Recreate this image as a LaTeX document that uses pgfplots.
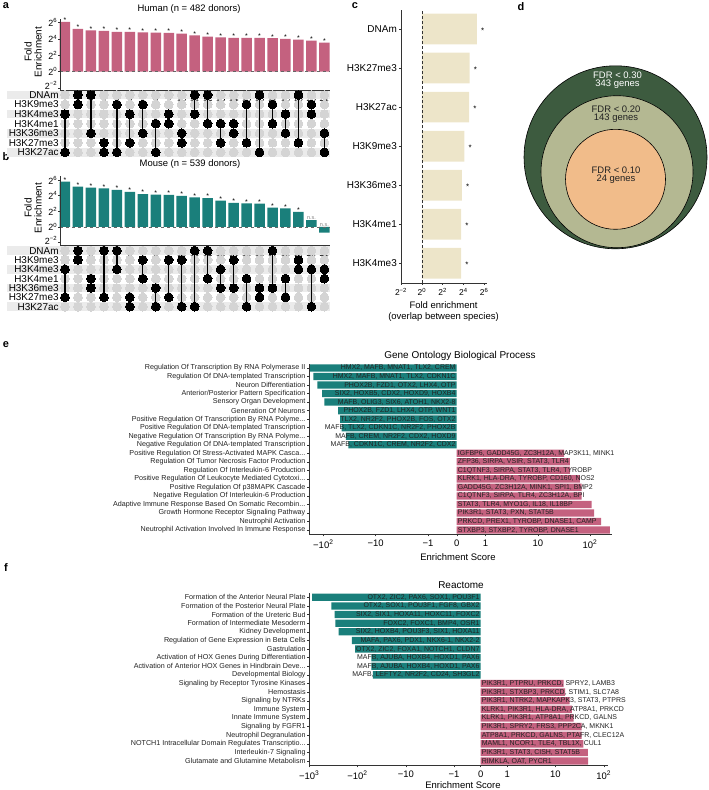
\documentclass[border=0pt]{standalone}
\usepackage{fontspec}
\setmainfont{Liberation Sans}
\setsansfont{Liberation Sans}
\usepackage{pgfplots}
\pgfplotsset{compat=1.18}

\definecolor{pinkA}{HTML}{C4617F}
\definecolor{tealA}{HTML}{1A7F7B}
\definecolor{beige}{HTML}{EDE5C9}
\definecolor{dkgreen}{HTML}{3D5B3F}
\definecolor{sage}{HTML}{B4B892}
\definecolor{peach}{HTML}{F1BC8A}
\definecolor{band}{HTML}{EBEBEB}
\definecolor{dotgray}{HTML}{D4D4D4}
\definecolor{axgray}{HTML}{333333}
\definecolor{txt}{HTML}{222222}

\newcommand\fs[1]{\fontsize{#1}{#1}\selectfont}
\newcommand\el{.\kern0pt.\kern0pt.}

\pgfplotsset{
 base/.style={scale only axis, anchor=north west, clip=false, axis on top,
   tick align=outside, major tick length=2bp, tick style={axgray, line width=0.4pt},
   axis line style={axgray, line width=0.5pt}},
 pair/.style={black, line width=1.3bp, mark=*, mark size=4.4bp, mark options={solid, fill=black, draw=black, line width=0pt}},
 gridpts/.style={color=dotgray, only marks, mark=*, mark size=4.4bp, mark options={fill=dotgray, draw=dotgray, line width=0pt}},
 lab/.style={only marks, mark=*, mark size=0pt, mark options={draw=none, fill=none}, nodes near coords, point meta=explicit symbolic, nodes near coords style={font=\fs{7}, anchor=south, inner sep=0pt, yshift=-1bp}},
 strafo/.style={x coord trafo/.code={\pgfmathparse{sign(##1)*(0.55*min(abs(##1),1)+ln(max(abs(##1),1))/ln(10))}}},
 bandrow/.style={fill=band, draw=none},
}

\begin{document}
\begin{tikzpicture}

% ---------------- panel labels and titles ----------------
\node[font=\bfseries\fs{11}] at (6bp,-6bp) {a};
\node[font=\bfseries\fs{11}] at (6bp,-157bp) {b};
\node[font=\bfseries\fs{11}] at (355bp,-6bp) {c};
\node[font=\bfseries\fs{11}] at (521bp,-7bp) {d};
\node[font=\bfseries\fs{11}] at (6bp,-345bp) {e};
\node[font=\bfseries\fs{11}] at (6bp,-568bp) {f};
\node[font=\fs{9.5}] at (189bp,-9bp) {Human (n = 482 donors)};
\node[font=\fs{9.5}] at (190bp,-164bp) {Mouse (n = 539 donors)};
\node[font=\fs{10}, rotate=90, align=center] at (33bp,-52bp) {Fold\\Enrichment};
\node[font=\fs{10}, rotate=90, align=center] at (33bp,-208bp) {Fold\\Enrichment};
\node[font=\fs{9.5}] at (443.5bp,-305bp) {Fold enrichment};
\node[font=\fs{9.5}] at (443.5bp,-317bp) {(overlap between species)};
\node[font=\fs{10}] at (460bp,-356bp) {Gene Ontology Biological Process};
\node[font=\fs{9.5}] at (458bp,-557bp) {Enrichment Score};
\node[font=\fs{10}] at (461bp,-585bp) {Reactome};
\node[font=\fs{9.5}] at (463bp,-785bp) {Enrichment Score};

% ---------------- panel a : bars ----------------
\begin{axis}[base, at={(59.8bp,-18.6bp)}, width=269.8bp, height=71.7bp,
  xmin=0.6, xmax=21.4, ymin=-2.3, ymax=6.5,
  axis x line*=bottom, axis y line*=left,
  xtick={1,...,21}, xticklabel={}, major tick length=1.5bp,
  ytick={-2,0,2,4,6},
  yticklabels={\raisebox{5bp}{2\textsuperscript{−2}},2\textsuperscript{0},2\textsuperscript{2},2\textsuperscript{4},2\textsuperscript{6}},
  yticklabel style={font=\fs{9}, inner sep=1bp}]
\addplot[ybar, bar shift=0pt, bar width=10.5bp, fill=pinkA, draw=none] coordinates {
 (1,6.1)(2,5.23)(3,5.07)(4,4.98)(5,4.86)(6,4.86)(7,4.82)(8,4.78)(9,4.74)(10,4.65)
 (11,4.45)(12,4.28)(13,4.2)(14,4.12)(15,4.12)(16,4.12)(17,4.09)(18,4.0)(19,3.92)(20,3.8)(21,3.55)};
\addplot[dashed, gray!80!black, line width=0.6pt] coordinates {(0.6,0)(21.4,0)};
\addplot[lab] coordinates {
 (1,6.1)[*] (2,5.23)[*] (3,5.07)[*] (4,4.98)[*] (5,4.86)[*] (6,4.86)[*] (7,4.82)[*] (8,4.78)[*] (9,4.74)[*] (10,4.65)[*]
 (11,4.45)[*] (12,4.28)[*] (13,4.2)[*] (14,4.12)[*] (15,4.12)[*] (16,4.12)[*] (17,4.09)[*] (18,4.0)[*] (19,3.92)[*] (20,3.8)[*] (21,3.55)[*]};
\end{axis}

% ---------------- panel a : matrix ----------------
\begin{axis}[base, clip marker paths=true, at={(59.8bp,-90.2bp)}, width=269.8bp, height=66.9bp,
  xmin=0.6, xmax=21.4, ymin=0.5, ymax=7.5, y dir=reverse,
  axis line style={draw=none}, xtick=\empty, ytick={1,2,3,4,5,6,7}, major tick length=0pt,
  yticklabels={DNAm,H3K9me3,H3K4me3,H3K4me1,H3K36me3,H3K27me3,H3K27ac},
  yticklabel style={font=\fs{10}, inner sep=1bp}]
\addplot[bandrow] coordinates {(-3.47,0.55)(21.45,0.55)(21.45,1.45)(-3.47,1.45)} -- cycle;
\addplot[bandrow] coordinates {(-3.47,2.55)(21.45,2.55)(21.45,3.45)(-3.47,3.45)} -- cycle;
\addplot[bandrow] coordinates {(-3.47,4.55)(21.45,4.55)(21.45,5.45)(-3.47,5.45)} -- cycle;
\addplot[bandrow] coordinates {(-3.47,6.55)(21.45,6.55)(21.45,7.45)(-3.47,7.45)} -- cycle;
\addplot[gridpts] coordinates {
(1,1)(2,1)(3,1)(4,1)(5,1)(6,1)(7,1)(8,1)(9,1)(10,1)(11,1)(12,1)(13,1)(14,1)(15,1)(16,1)(17,1)(18,1)(19,1)(20,1)(21,1)
(1,2)(2,2)(3,2)(4,2)(5,2)(6,2)(7,2)(8,2)(9,2)(10,2)(11,2)(12,2)(13,2)(14,2)(15,2)(16,2)(17,2)(18,2)(19,2)(20,2)(21,2)
(1,3)(2,3)(3,3)(4,3)(5,3)(6,3)(7,3)(8,3)(9,3)(10,3)(11,3)(12,3)(13,3)(14,3)(15,3)(16,3)(17,3)(18,3)(19,3)(20,3)(21,3)
(1,4)(2,4)(3,4)(4,4)(5,4)(6,4)(7,4)(8,4)(9,4)(10,4)(11,4)(12,4)(13,4)(14,4)(15,4)(16,4)(17,4)(18,4)(19,4)(20,4)(21,4)
(1,5)(2,5)(3,5)(4,5)(5,5)(6,5)(7,5)(8,5)(9,5)(10,5)(11,5)(12,5)(13,5)(14,5)(15,5)(16,5)(17,5)(18,5)(19,5)(20,5)(21,5)
(1,6)(2,6)(3,6)(4,6)(5,6)(6,6)(7,6)(8,6)(9,6)(10,6)(11,6)(12,6)(13,6)(14,6)(15,6)(16,6)(17,6)(18,6)(19,6)(20,6)(21,6)
(1,7)(2,7)(3,7)(4,7)(5,7)(6,7)(7,7)(8,7)(9,7)(10,7)(11,7)(12,7)(13,7)(14,7)(15,7)(16,7)(17,7)(18,7)(19,7)(20,7)(21,7)};
\addplot[pair] coordinates {(1,3)(1,7)};
\addplot[pair] coordinates {(2,1)(2,2)};
\addplot[pair] coordinates {(3,1)(3,5)};
\addplot[pair] coordinates {(4,6)(4,7)};
\addplot[pair] coordinates {(5,2)(5,7)};
\addplot[pair] coordinates {(6,3)(6,6)};
\addplot[pair] coordinates {(7,2)(7,5)};
\addplot[pair] coordinates {(8,4)(8,7)};
\addplot[pair] coordinates {(9,3)(9,4)};
\addplot[pair] coordinates {(10,5)(10,6)};
\addplot[pair] coordinates {(11,1)(11,3)};
\addplot[pair] coordinates {(12,1)(12,4)};
\addplot[pair] coordinates {(13,4)(13,6)};
\addplot[pair] coordinates {(14,4)(14,5)};
\addplot[pair] coordinates {(15,2)(15,6)};
\addplot[pair] coordinates {(16,1)(16,7)};
\addplot[pair] coordinates {(17,2)(17,4)};
\addplot[pair] coordinates {(18,3)(18,5)};
\addplot[pair] coordinates {(19,1)(19,6)};
\addplot[pair] coordinates {(20,2)(20,3)};
\addplot[pair] coordinates {(21,5)(21,7)};
\end{axis}

% ---------------- panel b : bars ----------------
\begin{axis}[base, at={(59.8bp,-176.1bp)}, width=269.8bp, height=68.9bp,
  xmin=0.6, xmax=21.4, ymin=-2.3, ymax=6.5,
  axis x line*=bottom, axis y line*=left,
  xtick={1,...,21}, xticklabel={}, major tick length=1.5bp,
  ytick={-2,0,2,4,6},
  yticklabels={\raisebox{5bp}{2\textsuperscript{−2}},2\textsuperscript{0},2\textsuperscript{2},2\textsuperscript{4},2\textsuperscript{6}},
  yticklabel style={font=\fs{9}, inner sep=1bp}]
\addplot[ybar, bar shift=0pt, bar width=10.5bp, fill=tealA, draw=none] coordinates {
 (1,5.79)(2,5.15)(3,5.02)(4,4.94)(5,4.73)(6,4.47)(7,4.21)(8,4.12)(9,4.09)(10,3.96)
 (11,3.79)(12,3.70)(13,3.36)(14,3.07)(15,3.02)(16,2.98)(17,2.47)(18,2.39)(19,1.92)(20,0.89)(21,-0.73)};
\addplot[dashed, gray!80!black, line width=0.6pt] coordinates {(0.6,0)(21.4,0)};
\addplot[lab] coordinates {
 (1,5.79)[*] (2,5.15)[*] (3,5.02)[*] (4,4.94)[*] (5,4.73)[*] (6,4.47)[*] (7,4.21)[*] (8,4.12)[*] (9,4.09)[*] (10,3.96)[*]
 (11,3.79)[*] (12,3.70)[*] (13,3.36)[*] (14,3.07)[*] (15,3.02)[*] (16,2.98)[*] (17,2.47)[*] (18,2.39)[*] (19,1.92)[*]};
\addplot[lab, nodes near coords style={font=\fs{5.5}, text=gray, yshift=1.5bp}] coordinates {(20,0.89)[n.s.] (21,0)[n.s.]};
\end{axis}

% ---------------- panel b : matrix ----------------
\begin{axis}[base, clip marker paths=true, at={(59.8bp,-246bp)}, width=269.8bp, height=65.3bp,
  xmin=0.6, xmax=21.4, ymin=0.5, ymax=7.5, y dir=reverse,
  axis line style={draw=none}, xtick=\empty, ytick={1,2,3,4,5,6,7}, major tick length=0pt,
  yticklabels={DNAm,H3K9me3,H3K4me3,H3K4me1,H3K36me3,H3K27me3,H3K27ac},
  yticklabel style={font=\fs{10}, inner sep=1bp}]
\addplot[bandrow] coordinates {(-3.47,0.55)(21.45,0.55)(21.45,1.45)(-3.47,1.45)} -- cycle;
\addplot[bandrow] coordinates {(-3.47,2.55)(21.45,2.55)(21.45,3.45)(-3.47,3.45)} -- cycle;
\addplot[bandrow] coordinates {(-3.47,4.55)(21.45,4.55)(21.45,5.45)(-3.47,5.45)} -- cycle;
\addplot[bandrow] coordinates {(-3.47,6.55)(21.45,6.55)(21.45,7.45)(-3.47,7.45)} -- cycle;
\addplot[gridpts] coordinates {
(1,1)(2,1)(3,1)(4,1)(5,1)(6,1)(7,1)(8,1)(9,1)(10,1)(11,1)(12,1)(13,1)(14,1)(15,1)(16,1)(17,1)(18,1)(19,1)(20,1)(21,1)
(1,2)(2,2)(3,2)(4,2)(5,2)(6,2)(7,2)(8,2)(9,2)(10,2)(11,2)(12,2)(13,2)(14,2)(15,2)(16,2)(17,2)(18,2)(19,2)(20,2)(21,2)
(1,3)(2,3)(3,3)(4,3)(5,3)(6,3)(7,3)(8,3)(9,3)(10,3)(11,3)(12,3)(13,3)(14,3)(15,3)(16,3)(17,3)(18,3)(19,3)(20,3)(21,3)
(1,4)(2,4)(3,4)(4,4)(5,4)(6,4)(7,4)(8,4)(9,4)(10,4)(11,4)(12,4)(13,4)(14,4)(15,4)(16,4)(17,4)(18,4)(19,4)(20,4)(21,4)
(1,5)(2,5)(3,5)(4,5)(5,5)(6,5)(7,5)(8,5)(9,5)(10,5)(11,5)(12,5)(13,5)(14,5)(15,5)(16,5)(17,5)(18,5)(19,5)(20,5)(21,5)
(1,6)(2,6)(3,6)(4,6)(5,6)(6,6)(7,6)(8,6)(9,6)(10,6)(11,6)(12,6)(13,6)(14,6)(15,6)(16,6)(17,6)(18,6)(19,6)(20,6)(21,6)
(1,7)(2,7)(3,7)(4,7)(5,7)(6,7)(7,7)(8,7)(9,7)(10,7)(11,7)(12,7)(13,7)(14,7)(15,7)(16,7)(17,7)(18,7)(19,7)(20,7)(21,7)};
\addplot[pair] coordinates {(1,3)(1,6)};
\addplot[pair] coordinates {(2,1)(2,2)};
\addplot[pair] coordinates {(3,4)(3,5)};
\addplot[pair] coordinates {(4,1)(4,6)};
\addplot[pair] coordinates {(5,1)(5,3)};
\addplot[pair] coordinates {(6,6)(6,7)};
\addplot[pair] coordinates {(7,2)(7,4)};
\addplot[pair] coordinates {(8,5)(8,7)};
\addplot[pair] coordinates {(9,2)(9,6)};
\addplot[pair] coordinates {(10,2)(10,7)};
\addplot[pair] coordinates {(11,1)(11,7)};
\addplot[pair] coordinates {(12,1)(12,4)};
\addplot[pair] coordinates {(13,3)(13,5)};
\addplot[pair] coordinates {(14,2)(14,5)};
\addplot[pair] coordinates {(15,4)(15,7)};
\addplot[pair] coordinates {(16,5)(16,6)};
\addplot[pair] coordinates {(17,1)(17,5)};
\addplot[pair] coordinates {(18,4)(18,6)};
\addplot[pair] coordinates {(19,2)(19,3)};
\addplot[pair] coordinates {(20,3)(20,7)};
\addplot[pair] coordinates {(21,3)(21,4)};
\end{axis}

% ---------------- panel c ----------------
\begin{axis}[base, at={(401bp,-9.5bp)}, width=86.3bp, height=273.3bp,
  xmin=-2, xmax=6.3, ymin=0.5, ymax=7.5,
  axis x line*=bottom, axis y line*=left,
  xtick={-2,0,2,4,6},
  xticklabels={2\textsuperscript{−2},2\textsuperscript{0},2\textsuperscript{2},2\textsuperscript{4},2\textsuperscript{6}},
  ytick={1,2,3,4,5,6,7},
  yticklabels={H3K4me3,H3K4me1,H3K36me3,H3K9me3,H3K27ac,H3K27me3,DNAm},
  xticklabel style={font=\fs{8.5}}, yticklabel style={font=\fs{10}, inner sep=2bp}]
\addplot[xbar, bar shift=0pt, bar width=30.7bp, fill=beige, draw=none,
  point meta=explicit symbolic, nodes near coords,
  nodes near coords style={font=\fs{8}, anchor=west, inner sep=0pt, xshift=4bp, yshift=-1.5bp}]
  coordinates {(5.3,7)[*] (4.6,6)[*] (4.55,5)[*] (4.1,4)[*] (3.85,3)[*] (3.78,2)[*] (3.78,1)[*]};
\addplot[densely dashed, axgray, line width=0.5pt] coordinates {(0,0.5)(0,7.5)};
\end{axis}

% ---------------- panel d ----------------
\begin{axis}[at={(0bp,0bp)}, anchor=north west, scale only axis, width=709bp, height=790bp,
  xmin=0, xmax=709, ymin=0, ymax=790, y dir=reverse, hide axis, clip=false, clip marker paths=true]
\addplot[only marks, mark=*, mark size=91.5bp, mark options={fill=dkgreen, draw=black, line width=0.6bp}] coordinates {(615.5,157.3)};
\addplot[only marks, mark=*, mark size=76bp, mark options={fill=sage, draw=black, line width=0.6bp}] coordinates {(617,171.7)};
\addplot[only marks, mark=*, mark size=50bp, mark options={fill=peach, draw=black, line width=0.6bp}] coordinates {(615.5,179.3)};
\end{axis}
\node[font=\fs{9.5}, text=white, align=center, inner sep=0pt] at (617.5bp,-80.5bp) {FDR < 0.30\\[-1.2bp]343 genes};
\node[font=\fs{9.5}, text=txt, align=center, inner sep=0pt] at (616bp,-114bp) {FDR < 0.20\\[-1.2bp]143 genes};
\node[font=\fs{9.5}, text=txt, align=center, inner sep=0pt] at (616bp,-175.5bp) {FDR < 0.10\\[-1.2bp]24 genes};

% ---------------- panel e ----------------
\begin{axis}[base, strafo, at={(309bp,-363.7bp)}, width=303bp, height=170.6bp,
  xmin=-188, xmax=262.6, ymin=0.5, ymax=20.5,
  axis x line*=bottom, axis y line*=left,
  xtick={-100,-10,-1,0,1,10,100},
  xticklabels={−10\textsuperscript{2},−10,−1,0,1,10,10\textsuperscript{2}},
  ytick={1,2,3,4,5,6,7,8,9,10,11,12,13,14,15,16,17,18,19,20},
  yticklabels={{Neutrophil Activation Involved In Immune Response},{Neutrophil Activation},{Growth Hormone Receptor Signaling Pathway},{Adaptive Immune Response Based On Somatic Recombin\el},{Negative Regulation Of Interleukin-6 Production},{Positive Regulation Of p38MAPK Cascade},{Positive Regulation Of Leukocyte Mediated Cytotoxi\el},{Regulation Of Interleukin-6 Production},{Regulation Of Tumor Necrosis Factor Production},{Positive Regulation Of Stress-Activated MAPK Casca\el},{Negative Regulation Of DNA-templated Transcription},{Negative Regulation Of Transcription By RNA Polyme\el},{Positive Regulation Of DNA-templated Transcription},{Positive Regulation Of Transcription By RNA Polyme\el},{Generation Of Neurons},{Sensory Organ Development},{Anterior/Posterior Pattern Specification},{Neuron Differentiation},{Regulation Of DNA-templated Transcription},{Regulation Of Transcription By RNA Polymerase II}},
  xticklabel style={font=\fs{9.5}}, yticklabel style={font=\fs{7.2}, inner sep=1.5bp, text=txt}]
\addplot[xbar, bar shift=0pt, bar width=7.3bp, fill=tealA, draw=none] coordinates {
 (-180,20)(-155,19)(-130,18)(-105,17)(-96,16)(-52,15)(-48,14)(-44.6,13)(-36.9,12)(-33.3,11)};
\addplot[xbar, bar shift=0pt, bar width=7.3bp, fill=pinkA, draw=none] coordinates {
 (31.8,10)(41.3,9)(41,8)(64,7)(69,6)(69,5)(107,4)(119,3)(162,2)(240,1)};
\begin{scope}[every node/.style={font=\fs{7}, text=txt, inner sep=1bp}]
\node[anchor=east] at (axis cs:0,20) {HMX2, MAFB, MNAT1, TLX2, CREM};
\node[anchor=east] at (axis cs:0,19) {HMX2, MAFB, MNAT1, TLX2, CDKN1C};
\node[anchor=east] at (axis cs:0,18) {PHOX2B, FZD1, OTX2, LHX4, OTP};
\node[anchor=east] at (axis cs:0,17) {SIX2, HOXB5, CDX2, HOXD9, HOXB4};
\node[anchor=east] at (axis cs:0,16) {MAFB, OLIG3, SIX6, ATOH1, NKX2-8};
\node[anchor=east] at (axis cs:0,15) {PHOX2B, FZD1, LHX4, OTP, WNT1};
\node[anchor=east] at (axis cs:0,14) {TLX2, NR2F2, PHOX2B, FOS, OTX2};
\node[anchor=east] at (axis cs:0,13) {MAFB, TLX2, CDKN1C, NR2F2, PHOX2B};
\node[anchor=east] at (axis cs:0,12) {MAFB, CREM, NR2F2, CDX2, HOXD9};
\node[anchor=east] at (axis cs:0,11) {MAFB, CDKN1C, CREM, NR2F2, CDX2};
\node[anchor=west] at (axis cs:0,10) {IGFBP6, GADD45G, ZC3H12A, MAP3K11, MINK1};
\node[anchor=west] at (axis cs:0,9) {ZFP36, SIRPA, VSIR, STAT3, TLR4};
\node[anchor=west] at (axis cs:0,8) {C1QTNF3, SIRPA, STAT3, TLR4, TYROBP};
\node[anchor=west] at (axis cs:0,7) {KLRK1, HLA-DRA, TYROBP, CD160, NOS2};
\node[anchor=west] at (axis cs:0,6) {GADD45G, ZC3H12A, MINK1, SPI1, BMP2};
\node[anchor=west] at (axis cs:0,5) {C1QTNF3, SIRPA, TLR4, ZC3H12A, BPI};
\node[anchor=west] at (axis cs:0,4) {STAT3, TLR4, MYO1G, IL18, IL18BP};
\node[anchor=west] at (axis cs:0,3) {PIK3R1, STAT3, PXN, STAT5B};
\node[anchor=west] at (axis cs:0,2) {PRKCD, PREX1, TYROBP, DNASE1, CAMP};
\node[anchor=west] at (axis cs:0,1) {STXBP3, STXBP2, TYROBP, DNASE1};
\end{scope}
\end{axis}

% ---------------- panel f ----------------
\begin{axis}[base, strafo, at={(309.3bp,-593bp)}, width=299bp, height=172.4bp,
  xmin=-1000, xmax=124.5, ymin=0.5, ymax=20.5,
  axis x line*=bottom, axis y line*=left,
  xtick={-1000,-100,-10,-1,0,1,10,100},
  xticklabels={−10\textsuperscript{3},−10\textsuperscript{2},−10,−1,0,1,10,10\textsuperscript{2}},
  ytick={1,2,3,4,5,6,7,8,9,10,11,12,13,14,15,16,17,18,19,20},
  yticklabels={{Glutamate and Glutamine Metabolism},{Interleukin-7 Signaling},{NOTCH1 Intracellular Domain Regulates Transcriptio\el},{Neutrophil Degranulation},{Signaling by FGFR1},{Innate Immune System},{Immune System},{Signaling by NTRKs},{Hemostasis},{Signaling by Receptor Tyrosine Kinases},{Developmental Biology},{Activation of Anterior HOX Genes in Hindbrain Deve\el},{Activation of HOX Genes During Differentiation},{Gastrulation},{Regulation of Gene Expression in Beta Cells},{Kidney Development},{Formation of Intermediate Mesoderm},{Formation of the Ureteric Bud},{Formation of the Posterior Neural Plate},{Formation of the Anterior Neural Plate}},
  xticklabel style={font=\fs{9.5}}, yticklabel style={font=\fs{7.2}, inner sep=1.5bp, text=txt}]
\addplot[xbar, bar shift=0pt, bar width=7.3bp, fill=tealA, draw=none] coordinates {
 (-872,20)(-349,19)(-298,18)(-289,17)(-247,16)(-131,15)(-112,14)(-52,13)(-52,12)(-48,11)};
\addplot[xbar, bar shift=0pt, bar width=7.3bp, fill=pinkA, draw=none] coordinates {
 (14.7,10)(15.9,9)(19.6,8)(21.9,7)(23.7,6)(35,5)(35,4)(38,3)(46.8,2)(47.8,1)};
\begin{scope}[every node/.style={font=\fs{7}, text=txt, inner sep=1bp}]
\node[anchor=east] at (axis cs:0,20) {OTX2, ZIC2, PAX6, SOX1, POU3F1};
\node[anchor=east] at (axis cs:0,19) {OTX2, SOX1, POU3F1, FGF8, GBX2};
\node[anchor=east] at (axis cs:0,18) {SIX2, SIX1, HOXA11, HOXC11, FOXC2};
\node[anchor=east] at (axis cs:0,17) {FOXC2, FOXC1, BMP4, OSR1};
\node[anchor=east] at (axis cs:0,16) {SIX2, HOXB4, POU3F3, SIX1, HOXA11};
\node[anchor=east] at (axis cs:0,15) {MAFA, PAX6, PDX1, NKX6-1, NKX2-2};
\node[anchor=east] at (axis cs:0,14) {OTX2, ZIC2, FOXA1, NOTCH1, CLDN7};
\node[anchor=east] at (axis cs:0,13) {MAFB, AJUBA, HOXB4, HOXD1, PAX6};
\node[anchor=east] at (axis cs:0,12) {MAFB, AJUBA, HOXB4, HOXD1, PAX6};
\node[anchor=east] at (axis cs:0,11) {MAFB, LEFTY2, NR2F2, CD24, SH3GL2};
\node[anchor=west] at (axis cs:0,10) {PIK3R1, PTPRU, PRKCD, SPRY2, LAMB3};
\node[anchor=west] at (axis cs:0,9) {PIK3R1, STXBP3, PRKCD, STIM1, SLC7A8};
\node[anchor=west] at (axis cs:0,8) {PIK3R1, NTRK2, MAPKAPK3, STAT3, PTPRS};
\node[anchor=west] at (axis cs:0,7) {KLRK1, PIK3R1, HLA-DRA, ATP8A1, PRKCD};
\node[anchor=west] at (axis cs:0,6) {KLRK1, PIK3R1, ATP8A1, PRKCD, GALNS};
\node[anchor=west] at (axis cs:0,5) {PIK3R1, SPRY2, FRS3, PPP2CA, MKNK1};
\node[anchor=west] at (axis cs:0,4) {ATP8A1, PRKCD, GALNS, PTAFR, CLEC12A};
\node[anchor=west] at (axis cs:0,3) {MAML1, NCOR1, TLE4, TBL1X, CUL1};
\node[anchor=west] at (axis cs:0,2) {PIK3R1, STAT3, CISH, STAT5B};
\node[anchor=west] at (axis cs:0,1) {RIMKLA, OAT, PYCR1};
\end{scope}
\end{axis}

\pgfresetboundingbox
\path[use as bounding box] (0,0) rectangle (709bp,-790bp);
\end{tikzpicture}
\end{document}
